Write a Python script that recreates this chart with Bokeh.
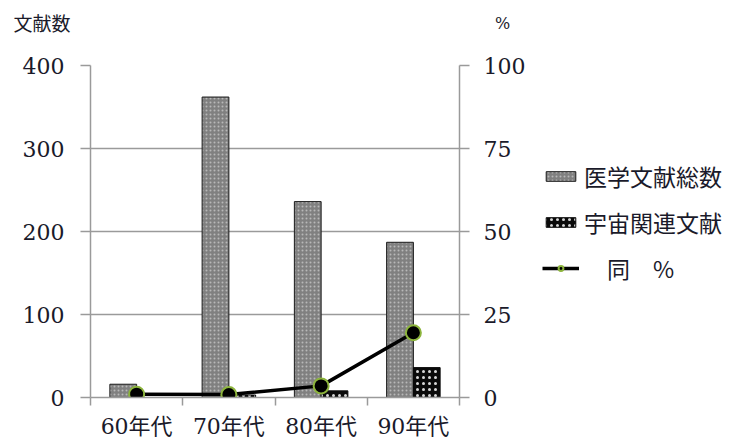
from bokeh.plotting import figure
from bokeh.layouts import column, row
from bokeh.models import (Range1d, LinearAxis, FixedTicker, Legend, LegendItem, Label,
                          ColumnDataSource)
from bokeh.embed import file_html
from bokeh.resources import INLINE

# Decades and counts of papers
decades = ["60年代", "70年代", "80年代", "90年代"]
medical_total = [16, 362, 236, 187]
space_related = [0, 3, 8, 36]
space_pct = [1.0, 0.9, 3.5, 19.5]
left_ticks = [0, 100, 200, 300, 400]
right_ticks = [0, 25, 50, 75, 100]
series_names = ["医学文献総数", "宇宙関連文献", "　同　%"]

centers = [i + 0.5 for i in range(len(decades))]
bar_w = 0.29
src = ColumnDataSource(dict(
    center=centers,
    left=[c - bar_w / 2 for c in centers],
    right=[c + bar_w / 2 for c in centers],
    total=medical_total,
    space=space_related,
    pct=space_pct,
))

SERIF = "DejaVu Serif, Noto Sans CJK JP"
SANS = "Noto Sans CJK JP"
GRID = "#9a9a9a"
INK = "#1a1a2a"

TOTAL_STYLE = dict(fill_color="#808080", line_color="#1a1a1a", line_width=1,
                   hatch_pattern="dot", hatch_color="#b8b8b8", hatch_scale=4,
                   hatch_weight=1)
SPACE_STYLE = dict(fill_color="#0a0a0a", line_color="#0a0a0a", line_width=1,
                   hatch_pattern="dot", hatch_color="#d8d8d8", hatch_scale=6,
                   hatch_weight=1.5)
LINE_STYLE = dict(line_color="black", line_width=3.5)
MARK_STYLE = dict(size=15, fill_color="black", line_color="#8cb43c", line_width=2)


def bare(width, height, **kw):
    f = figure(width=width, height=height, output_backend="svg", toolbar_location=None,
               min_border=0, x_axis_location=None, y_axis_location=None, **kw)
    f.outline_line_color = None
    f.grid.visible = False
    return f


def draw_series(f, pct_range=None):
    rt = f.vbar(x="left", top="total", bottom=0, width=bar_w, source=src, **TOTAL_STYLE)
    rs = f.vbar(x="right", top="space", bottom=0, width=bar_w, source=src, **SPACE_STYLE)
    kw = {} if pct_range is None else dict(y_range_name=pct_range)
    rl = f.line(x="center", y="pct", source=src, **kw, **LINE_STYLE)
    rm = f.scatter(x="center", y="pct", source=src, **kw, **MARK_STYLE)
    return rt, rs, rl, rm


# Strip above the chart holding the two axis captions
head = bare(739, 44, x_range=Range1d(0, 1), y_range=Range1d(0, 1))
head.add_layout(Label(x=13, y=22, x_units="screen", y_units="screen", text="文献数",
                      text_font=SANS, text_font_size="19px", text_color=INK,
                      text_baseline="middle"))
head.add_layout(Label(x=502, y=21, x_units="screen", y_units="screen", text="%",
                      text_font=SERIF, text_font_size="16px", text_color=INK,
                      text_baseline="middle", text_align="center"))

# Main chart
p = figure(width=535, height=397, output_backend="svg", toolbar_location=None,
           x_range=Range1d(0, 4), y_range=Range1d(0, 400),
           min_border_left=90, min_border_right=76, min_border_top=21,
           min_border_bottom=44, x_axis_location=None, y_axis_location=None)
p.outline_line_color = None
p.xgrid.visible = False
p.ygrid.grid_line_color = GRID
p.ygrid.grid_line_width = 1.5
p.ygrid.ticker = FixedTicker(ticks=left_ticks)
p.extra_y_ranges = {"pct": Range1d(0, 100)}


def style_axis(ax, standoff):
    ax.axis_line_color = GRID
    ax.axis_line_width = 1.5
    ax.major_tick_line_color = GRID
    ax.major_tick_line_width = 1.5
    ax.major_tick_in = 0
    ax.major_tick_out = 10
    ax.minor_tick_line_color = None
    ax.major_label_standoff = standoff
    ax.major_label_text_font = SERIF
    ax.major_label_text_font_size = "22px"
    ax.major_label_text_color = INK


ax_l = LinearAxis(ticker=FixedTicker(ticks=left_ticks))
style_axis(ax_l, 16)
p.add_layout(ax_l, "left")

ax_r = LinearAxis(y_range_name="pct", ticker=FixedTicker(ticks=right_ticks))
style_axis(ax_r, 14)
p.add_layout(ax_r, "right")

# Bottom axis: labels at group centres, ticks at group boundaries
ax_b = LinearAxis(ticker=FixedTicker(ticks=centers, minor_ticks=[0, 1, 2, 3, 4]))
style_axis(ax_b, 8)
ax_b.major_label_overrides = {c: d for c, d in zip(centers, decades)}
ax_b.major_tick_line_color = None
ax_b.major_tick_out = 8
ax_b.minor_tick_line_color = GRID
ax_b.minor_tick_line_width = 1.5
ax_b.minor_tick_in = 0
ax_b.minor_tick_out = 8
p.add_layout(ax_b, "below")

draw_series(p, "pct")

# Legend panel to the right of the chart; its view window lies away from the data,
# so only the legend keys show
side = bare(204, 397, x_range=Range1d(-101, -100), y_range=Range1d(-1001, -1000))
k_total, k_space, k_line, k_mark = draw_series(side)
legend = Legend(items=[
    LegendItem(label=series_names[0], renderers=[k_total]),
    LegendItem(label=series_names[1], renderers=[k_space]),
    LegendItem(label=series_names[2], renderers=[k_line, k_mark]),
], location=(7, 112))
legend.background_fill_alpha = 0
legend.border_line_color = None
legend.padding = 0
legend.margin = 0
legend.spacing = 12
legend.glyph_width = 37
legend.glyph_height = 12
legend.label_height = 28
legend.label_standoff = 5
legend.label_text_font = SANS
legend.label_text_font_size = "23px"
legend.label_text_color = INK
side.add_layout(legend, "center")

layout = column(head, row(p, side, spacing=0), spacing=0)
open("out.html", "w").write(file_html(layout, INLINE))
